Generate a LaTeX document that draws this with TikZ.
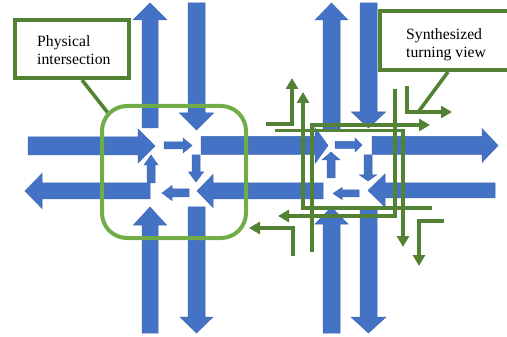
\documentclass[tikz,border=0pt]{standalone}
\usepackage{fontspec}
\setmainfont{Liberation Serif}
\usetikzlibrary{arrows.meta}
\definecolor{arrblue}{HTML}{4472C4}
\definecolor{arredge}{HTML}{3F69B5}
\definecolor{ltgreen}{HTML}{70AD47}
\definecolor{dkgreen}{HTML}{548235}
\pgfdeclarelayer{back}
\pgfsetlayers{back,main}
\tikzset{
  blarr/.style={fill=arrblue, draw=arredge, line width=0.5pt},
  turnline/.style={draw=dkgreen, line width=3.4pt, -{Triangle[length=11pt,width=12pt]}},
  lblbox/.style={draw=dkgreen, line width=4pt, fill=white, inner sep=0pt},
  lbltext/.style={font=\fontsize{15.7}{18.5}\selectfont, align=left, inner sep=0pt, text=black},
  pointer/.style={draw=dkgreen, line width=3.6pt},
  zone/.style={draw=ltgreen, line width=4pt, rounded corners=25pt, inner sep=0pt}
}
% horizontal arrow: tail x, head-base x, tip x, centre y, shaft half width, head half width
\newcommand{\HArr}[6]{\filldraw[blarr] (#1,#4-#5) -- (#2,#4-#5) -- (#2,#4-#6) -- (#3,#4) -- (#2,#4+#6) -- (#2,#4+#5) -- (#1,#4+#5) -- cycle;}
% vertical arrow: tail y, head-base y, tip y, centre x, shaft half width, head half width
\newcommand{\VArr}[6]{\filldraw[blarr] (#4-#5,#1) -- (#4-#5,#2) -- (#4-#6,#2) -- (#4,#3) -- (#4+#6,#2) -- (#4+#5,#2) -- (#4+#5,#1) -- cycle;}
\begin{document}
\begin{tikzpicture}[x=1pt,y=-1pt]
\useasboundingbox (0,0) rectangle (507,337);
\clip (0,0) rectangle (507,337);
% ---- left intersection (blue)
\VArr{128}{20}{3}{150}{8}{17}
\VArr{3}{113}{130}{196.5}{8.5}{17}
\HArr{28}{138}{155}{146}{9}{17}
\HArr{164}{183}{192}{145.5}{3.5}{7.5}
\HArr{201}{315}{328}{145.5}{9}{18}
\VArr{155}{172}{182}{196}{4}{7.5}
\HArr{323}{213}{197}{191}{8}{16.5}
\HArr{189}{172}{162}{193}{4}{7.5}
\HArr{150}{42}{25}{191}{8}{17.5}
\VArr{183}{165}{155}{151}{4}{7}
\VArr{333}{225}{207}{150}{8}{16.5}
\VArr{207}{317}{333}{196.5}{8.5}{16.5}
% ---- right intersection (blue)
\VArr{130}{20}{3}{331.5}{8.5}{16.5}
\VArr{3}{112}{128}{368.5}{8.5}{17}
\HArr{335}{355}{362}{145}{3.5}{7}
\HArr{372}{482}{498}{145.5}{9}{17}
\VArr{155}{175}{181}{368}{4}{8.5}
\HArr{495}{385}{368}{190.5}{7.5}{16.5}
\HArr{359}{342}{333}{193.5}{3.5}{6}
\VArr{178}{160}{152}{331}{4}{9}
\VArr{333}{224}{207}{331.5}{8.5}{16.5}
\VArr{208}{317}{333}{368.5}{8.5}{17.5}
% ---- physical intersection zone
\node[zone, minimum width=144pt, minimum height=132pt] (zone) at (174,172) {};
% ---- synthesized turning movements
\draw[turnline] (266,124) -- (292,124) -- (292,78);
\draw[turnline] (432,208) -- (303,208) -- (303,92);
\draw[turnline] (395,89) -- (395,216) -- (278,216);
\draw[turnline] (312,252) -- (312,125) -- (430,125);
\draw[turnline] (275,130.5) -- (403,130.5) -- (403,247);
\draw[turnline] (407,86) -- (407,112) -- (452,112);
\draw[turnline] (444,221) -- (419,221) -- (419,266);
\draw[turnline] (293,256) -- (293,228) -- (249,228);
% ---- labels
\node[lblbox, minimum width=114pt, minimum height=58pt] (physlbl) at (72,49) {};
\node[lblbox, minimum width=132pt, minimum height=59pt] (synlbl) at (446,40.5) {};
\node[lbltext, anchor=north west] (phystext) at (37,35.2) {Physical\\intersection};
\node[lbltext, anchor=north west] (syntext) at (406,28.4) {Synthesized\\turning view};
\coordinate (physend) at (108,113);
\coordinate (synend) at (419,111);
\begin{pgfonlayer}{back}
\draw[pointer] ([xshift=10pt]physlbl.south) -- (physend);
\draw[pointer] ([xshift=2pt]synlbl.south) -- (synend);
\end{pgfonlayer}
\end{tikzpicture}
\end{document}
